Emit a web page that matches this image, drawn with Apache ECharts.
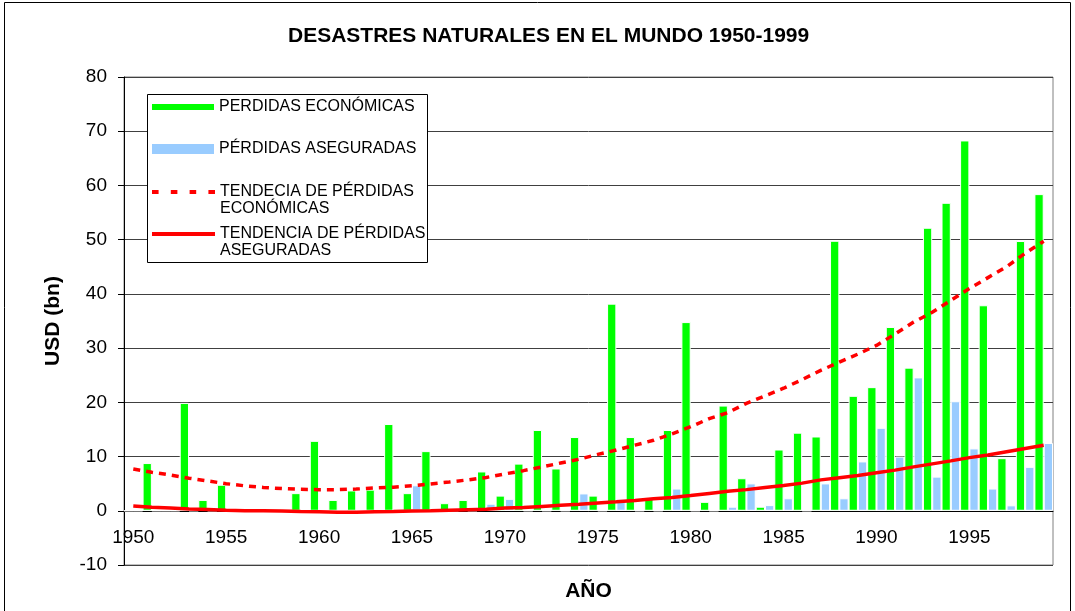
<!DOCTYPE html>
<html>
<head>
<meta charset="utf-8">
<script src="https://cdn.jsdelivr.net/npm/echarts@6/dist/echarts.min.js"></script>
<style>
  html, body { margin: 0; padding: 0; background: #fff; }
  #chart { width: 1075px; height: 611px; }
</style>
</head>
<body>
<div id="chart"></div>
<script>
// años (categorías del eje X)
const anios = [
  '1950','1951','1952','1953','1954','1955','1956','1957','1958','1959',
  '1960','1961','1962','1963','1964','1965','1966','1967','1968','1969',
  '1970','1971','1972','1973','1974','1975','1976','1977','1978','1979',
  '1980','1981','1982','1983','1984','1985','1986','1987','1988','1989',
  '1990','1991','1992','1993','1994','1995','1996','1997','1998','1999'
];
// pérdidas económicas (USD bn)
const perdidasEconomicas = [
  0, 8.8, 0, 19.9, 2.0, 4.8, 0, 0, 0, 3.25,
  12.9, 2.0, 3.75, 3.9, 16.0, 3.25, 11.0, 1.4, 2.0, 7.25,
  2.8, 8.7, 14.9, 7.8, 13.6, 2.8, 38.2, 13.6, 2.2, 14.9,
  34.8, 1.65, 19.4, 6.0, 0.75, 11.3, 14.4, 13.7, 49.8, 21.2,
  22.8, 33.9, 26.4, 52.2, 56.8, 68.3, 37.9, 9.7, 49.75, 58.4
];
// pérdidas aseguradas (USD bn)
const perdidasAseguradas = [
  0, 0, 0, 0, 0, 0, 0, 0, 0, 0,
  0, 0, 0, 0, 0, 4.7, 0, 0, 0, 1.3,
  2.2, 0, 0, 0, 3.2, 0, 2.2, 0, 0, 4.1,
  0, 0, 0.75, 5.05, 1.05, 2.3, 0, 5.05, 2.3, 9.1,
  15.3, 10.0, 24.6, 6.3, 20.2, 11.5, 4.1, 1.0, 8.1, 12.5
];
// tendencia de pérdidas económicas
const tendenciaEconomica = [
  7.7, 7.1, 6.6, 6.0, 5.5, 5.0, 4.6, 4.3, 4.1, 3.95,
  3.9, 3.9, 4.0, 4.2, 4.35, 4.6, 4.95, 5.3, 5.7, 6.15,
  6.8, 7.4, 8.1, 8.8, 9.5, 10.4, 11.2, 12.1, 13.0, 14.2,
  15.5, 17.0, 18.1, 19.8, 21.2, 22.6, 24.2, 25.9, 27.4, 28.9,
  30.5, 32.6, 34.8, 36.6, 38.8, 41.0, 43.0, 45.0, 47.5, 49.7
];
// tendencia de pérdidas aseguradas
const tendenciaAsegurada = [
  0.9, 0.65, 0.5, 0.35, 0.25, 0.1, 0.0, 0.0, -0.05, -0.15,
  -0.2, -0.25, -0.25, -0.2, -0.15, -0.05, 0.0, 0.1, 0.2, 0.3,
  0.5, 0.6, 0.8, 1.0, 1.2, 1.45, 1.65, 1.9, 2.2, 2.45,
  2.8, 3.2, 3.6, 3.9, 4.3, 4.65, 5.1, 5.7, 6.1, 6.5,
  7.0, 7.5, 8.1, 8.65, 9.2, 9.8, 10.3, 10.9, 11.5, 12.1
];

const fuente = '"Liberation Sans", Arial, sans-serif';
const nombres = [
  'PERDIDAS ECONÓMICAS',
  'PÉRDIDAS ASEGURADAS',
  'TENDECIA DE PÉRDIDAS\nECONÓMICAS',
  'TENDENCIA DE PÉRDIDAS\nASEGURADAS'
];
// iconos de leyenda para las líneas de tendencia
const iconoDiscontinuo = 'path://M0,0h7v4h-7zM20,0h7v4h-7zM40,0h7v4h-7zM60,0h7v4h-7z';
const iconoContinuo = 'path://M0,0h65v4h-65z';

// eje X sobre el cero: alto del grid 488 px para 90 unidades
const desplazamientoCero = -488 / 9;

function leyenda(nombre, top, ancho, alto, icono) {
  return {
    data: [{ name: nombre, icon: icono }],
    left: 152,
    top: top,
    padding: 0,
    itemWidth: ancho,
    itemHeight: alto,
    z: 110,
    selectedMode: false,
    itemStyle: { borderWidth: 0 },
    formatter: function (n) { return n.split('\n')[0]; },
    textStyle: { fontFamily: fuente, fontSize: 16, color: '#000' }
  };
}

const myChart = echarts.init(document.getElementById('chart'));
const option = {
  animation: false,
  backgroundColor: '#fff',
  title: {
    text: 'DESASTRES NATURALES EN EL MUNDO 1950-1999',
    left: 288,
    top: 26,
    padding: 0,
    textStyle: { fontFamily: fuente, fontSize: 21, fontWeight: 'bold', color: '#000' }
  },
  legend: [
    leyenda(nombres[0], 99, 62, 6, 'rect'),
    leyenda(nombres[1], 141, 62, 10, 'rect'),
    leyenda(nombres[2], 184, 63, 4, iconoDiscontinuo),
    leyenda(nombres[3], 226, 63, 4, iconoContinuo)
  ],
  graphic: [
    { type: 'rect', z: 0, silent: true,
      shape: { x: 4.5, y: 2.5, width: 1066, height: 610 },
      style: { fill: 'none', stroke: '#000', lineWidth: 1 } },
    { type: 'rect', z: 100, silent: true,
      shape: { x: 147.5, y: 94.5, width: 280, height: 168 },
      style: { fill: '#fff', stroke: '#000', lineWidth: 1 } },
    { type: 'text', z: 110, left: 220, top: 201, silent: true,
      style: { text: 'ECONÓMICAS', font: '16px ' + fuente, fill: '#000' } },
    { type: 'text', z: 110, left: 220, top: 243, silent: true,
      style: { text: 'ASEGURADAS', font: '16px ' + fuente, fill: '#000' } }
  ],
  grid: {
    left: 124, right: 22, top: 77, bottom: 46,
    containLabel: false,
    outerBoundsMode: 'none',
    show: true, borderColor: '#808080', borderWidth: 1
  },
  xAxis: {
    type: 'category',
    data: anios,
    position: 'bottom',
    offset: desplazamientoCero,
    name: 'AÑO',
    nameLocation: 'middle',
    nameGap: 70,
    nameTextStyle: { fontFamily: fuente, fontSize: 21, fontWeight: 'bold', color: '#000' },
    axisLine: { onZero: false, lineStyle: { color: '#000', width: 1 } },
    axisTick: { interval: 0, length: 5, lineStyle: { color: '#000' } },
    axisLabel: { interval: 4, margin: 17, fontFamily: fuente, fontSize: 19, color: '#000' },
    splitLine: { show: false }
  },
  yAxis: {
    type: 'value',
    min: -10,
    max: 80,
    interval: 10,
    name: 'USD (bn)',
    nameLocation: 'middle',
    nameGap: 60,
    nameTextStyle: { fontFamily: fuente, fontSize: 21, fontWeight: 'bold', color: '#000' },
    axisLine: { show: true, lineStyle: { color: '#000', width: 1 } },
    axisTick: { show: true, length: 6, lineStyle: { color: '#000' } },
    axisLabel: { margin: 17, fontFamily: fuente, fontSize: 19, color: '#000' },
    splitLine: { show: true, lineStyle: { color: '#404040', width: 1 } }
  },
  series: [
    {
      name: nombres[0],
      type: 'bar',
      data: perdidasEconomicas,
      barGap: '0%',
      barCategoryGap: '0%',
      itemStyle: { color: '#00ff00', borderColor: '#ffffff', borderWidth: 1 }
    },
    {
      name: nombres[1],
      type: 'bar',
      data: perdidasAseguradas,
      barGap: '0%',
      barCategoryGap: '0%',
      itemStyle: { color: '#99ccff', borderColor: '#ffffff', borderWidth: 1 }
    },
    {
      name: nombres[2],
      type: 'line',
      data: tendenciaEconomica,
      symbol: 'none',
      lineStyle: { color: '#ff0000', width: 3.5, type: [7, 6] },
      itemStyle: { color: '#ff0000' }
    },
    {
      name: nombres[3],
      type: 'line',
      data: tendenciaAsegurada,
      symbol: 'none',
      lineStyle: { color: '#ff0000', width: 3.5 },
      itemStyle: { color: '#ff0000' }
    }
  ]
};
myChart.setOption(option);
window.addEventListener('resize', function () {
  myChart.resize();
});
</script>
</body>
</html>
